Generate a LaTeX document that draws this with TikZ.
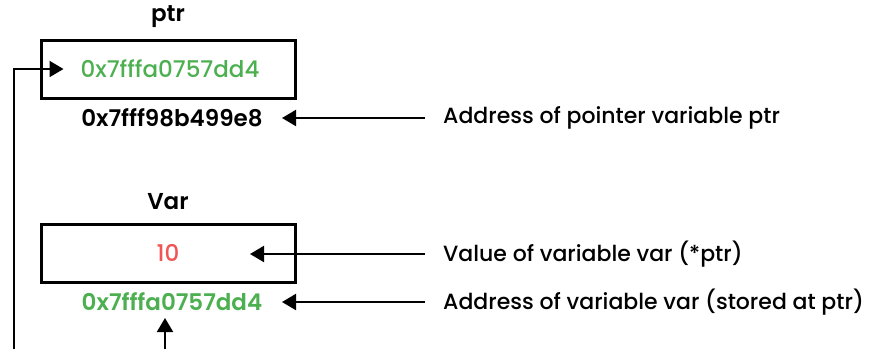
\documentclass[tikz,border=0pt]{standalone}
\usepackage{fontspec}
\setmainfont{Poppins}[UprightFont=* Medium, BoldFont=* SemiBold]
\usetikzlibrary{arrows.meta}
\definecolor{addrgreen}{HTML}{4CAF50}
\definecolor{valred}{HTML}{F05454}
\tikzset{
  cell/.style={draw, line width=3pt, minimum width=254pt, minimum height=58pt, inner sep=0pt},
  note/.style={anchor=west, inner sep=0pt, font=\fontsize{22}{25}\selectfont},
  arr/.style={line width=2pt, -{Triangle[length=14pt,width=16pt]}},
}
\begin{document}
\begin{tikzpicture}[x=1pt,y=-1pt]
        \useasboundingbox (0,0) rectangle (877,349);
        \begin{scope}[font=\fontsize{23}{26}\selectfont]
            % pointer variable
            \node (ptrname) at (168,17) {\bfseries ptr};
            \node[cell, text=addrgreen] (ptrbox) at (168,69) {\hspace*{4pt}\mdseries 0x7fffa0757dd4};
            \node (ptraddr) at (172,118) {\bfseries 0x7fff98b499e8};
            % pointed variable
            \node (varname) at (168,202) {\bfseries Var};
            \node[cell, text=valred] (varbox) at (168,253) {10};
            \node[text=addrgreen] (varaddr) at (172,302) {\bfseries 0x7fffa0757dd4};
        \end{scope}
        \node[note] (ptrnote) at (443,118) {Address of pointer variable ptr};
        \node[note] (valnote) at (443,254) {Value of variable var (*ptr)};
        \node[note] (addrnote) at (443,302) {Address of variable var (stored at ptr)};
        \coordinate (loopend) at (14,349);
        \coordinate (upend) at (165,349);
        \draw[arr] ([xshift=-18pt]ptrnote.west) -- (282,118);
        \draw[arr] ([xshift=-18pt]valnote.west) -- (250,254);
        \draw[arr] ([xshift=-18pt]addrnote.west) -- (282,302);
        \draw[arr] (loopend) |- ([xshift=24pt]ptrbox.west);
        \draw[arr] (upend) -- (165,318);
    \end{tikzpicture}
\end{document}
